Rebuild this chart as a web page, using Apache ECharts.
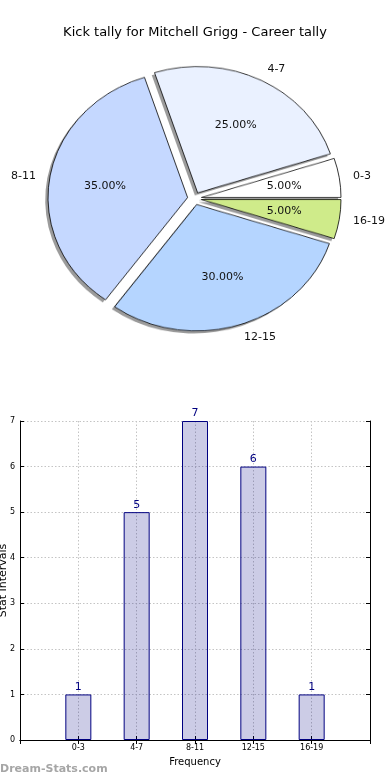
<!DOCTYPE html>
<html>
<head>
<meta charset="utf-8">
<script src="https://cdn.jsdelivr.net/npm/echarts@6/dist/echarts.min.js"></script>
<style>
  html, body { margin: 0; padding: 0; background: #ffffff; }
  #wrap { position: relative; width: 390px; height: 780px; overflow: hidden; }
  #pieShapes { position: absolute; left: 0; top: 0; width: 390px; height: 400px; z-index: 0; }
  #main { position: absolute; left: 0; top: 0; width: 390px; height: 780px; z-index: 1; }
</style>
</head>
<body>
<div id="wrap">
  <div id="pieShapes"></div>
  <div id="main"></div>
</div>
<script>
// ---- data ----
const title = 'Kick tally for Mitchell Grigg - Career tally';
const categories = ['0-3', '4-7', '8-11', '12-15', '16-19'];
const values = [1, 5, 7, 6, 1];
const pieColors = ['#FFFFFF', '#EAF1FF', '#C5D8FF', '#B5D5FF', '#CFEB8A'];
const yTicks = [0, 1, 2, 3, 4, 5, 6, 7];
const xAxisName = 'Frequency';
const yAxisName = 'Stat Intervals';
const watermark = 'Dream-Stats.com';

// ---- pie geometry (matplotlib pie drawn on non-equal aspect axes) ----
const CX = 194.5, CY = 198.5, R = 139.6, K = 0.9055, EXPLODE = 0.05, SHADOW = 0.02;
const FONT = 'DejaVu Sans';

const shapesEl = document.getElementById('pieShapes');
shapesEl.style.transformOrigin = CX + 'px ' + CY + 'px';
shapesEl.style.transform = 'scaleY(' + K + ')';

const total = values.reduce((a, b) => a + b, 0);
const mids = [];
let cum = 0;
values.forEach(v => { mids.push((cum + v / 2) / total * 2 * Math.PI); cum += v; });

function labelPos(i, frac) {
  const r = R * (frac + EXPLODE);
  const m = mids[i];
  return { x: CX + r * Math.cos(m), y: CY - K * r * Math.sin(m), c: Math.cos(m) };
}

const pieData = categories.map((c, i) => ({
  name: c, value: values[i], selected: true,
  itemStyle: { color: pieColors[i] }
}));
const shadowData = categories.map((c, i) => ({ name: c, value: values[i], selected: true }));

function piePart(center, data, itemStyle) {
  return {
    type: 'pie',
    center: center,
    radius: [0, R],
    startAngle: 0,
    clockwise: false,
    selectedMode: 'multiple',
    selectedOffset: R * EXPLODE,
    avoidLabelOverlap: false,
    silent: true,
    label: { show: false },
    labelLine: { show: false },
    emphasis: { disabled: true },
    itemStyle: itemStyle,
    data: data
  };
}

// ---- chart 1: pie wedges with shadow ----
const shapes = echarts.init(shapesEl, null, { renderer: 'canvas', width: 390, height: 400 });
shapes.setOption({
  animation: false,
  series: [
    piePart([CX - R * SHADOW, CY + R * SHADOW], shadowData,
      { color: 'rgba(55,55,55,0.5)', borderWidth: 0 }),
    piePart([CX, CY], pieData,
      { borderColor: '#000000', borderWidth: 0.8 })
  ]
});

// ---- chart 2: title, pie labels, bar chart ----
const main = echarts.init(document.getElementById('main'), null, { renderer: 'canvas', width: 390, height: 780 });
const transparentData = categories.map((c, i) => ({ name: c, value: values[i] }));

const xCats = [''].concat(categories, ['']);
const barData = ['-'].concat(values, ['-']);

main.setOption({
  animation: false,
  textStyle: { fontFamily: FONT },
  title: {
    text: title, left: 'center', top: 21,
    textStyle: { fontFamily: FONT, fontSize: 13, fontWeight: 'normal', color: '#000' }
  },
  graphic: [{
    type: 'text', left: 0, top: 764,
    style: { text: watermark, fontFamily: FONT, fontSize: 11, fontWeight: 'bold', fill: '#a6a6a6' }
  }],
  grid: { left: 20, top: 421, width: 350, height: 319, show: false, containLabel: false, outerBoundsMode: 'none' },
  xAxis: [{
    type: 'category', data: xCats, boundaryGap: false,
    position: 'bottom',
    name: xAxisName, nameLocation: 'middle', nameGap: 17, nameMoveOverlap: false,
    nameTextStyle: { fontFamily: FONT, fontSize: 10, color: '#000' },
    axisLine: { show: true, lineStyle: { color: '#000', width: 1 } },
    axisTick: { show: true, inside: true, length: 4, interval: 0, lineStyle: { color: '#000' } },
    axisLabel: { interval: 0, fontSize: 8, color: '#000', margin: 4 },
    splitLine: { show: true, interval: 0, lineStyle: { color: '#c4c4c4', type: [1.5, 2], width: 1 } }
  }, {
    type: 'category', data: xCats, boundaryGap: false, position: 'top',
    axisLine: { show: true, lineStyle: { color: '#000', width: 1 } },
    axisTick: { show: true, inside: true, length: 4, interval: 0, lineStyle: { color: '#000' } },
    axisLabel: { show: false }, splitLine: { show: false }
  }],
  yAxis: [{
    type: 'value', min: yTicks[0], max: yTicks[yTicks.length - 1], interval: 1,
    position: 'left',
    name: yAxisName, nameLocation: 'middle', nameGap: 11, nameRotate: 90, nameMoveOverlap: false,
    nameTextStyle: { fontFamily: FONT, fontSize: 11, color: '#000' },
    axisLine: { show: true, lineStyle: { color: '#000', width: 1 } },
    axisTick: { show: true, inside: true, length: 4, lineStyle: { color: '#000' } },
    axisLabel: { fontSize: 8, color: '#000', margin: 5 },
    splitLine: { show: true, lineStyle: { color: '#c4c4c4', type: [1.5, 2], width: 1 } }
  }, {
    type: 'value', min: yTicks[0], max: yTicks[yTicks.length - 1], interval: 1,
    position: 'right',
    axisLine: { show: true, lineStyle: { color: '#000', width: 1 } },
    axisTick: { show: true, inside: true, length: 4, lineStyle: { color: '#000' } },
    axisLabel: { show: false }, splitLine: { show: false }
  }],
  series: [
    {
      type: 'pie', center: [CX, CY], radius: [0, R], startAngle: 0, clockwise: false,
      silent: true, avoidLabelOverlap: false, selectedMode: false,
      itemStyle: { color: 'rgba(0,0,0,0)', borderWidth: 0 },
      emphasis: { disabled: true },
      labelLine: { show: false },
      label: { show: true, position: 'inside', color: '#111', fontFamily: FONT, fontSize: 11, formatter: '{b}' },
      labelLayout: function (p) {
        const q = labelPos(p.dataIndex, 1.1);
        return { x: q.x, y: q.y, align: q.c > 0 ? 'left' : 'right', verticalAlign: 'middle' };
      },
      data: transparentData
    },
    {
      type: 'pie', center: [CX, CY], radius: [0, R], startAngle: 0, clockwise: false,
      silent: true, avoidLabelOverlap: false, selectedMode: false,
      itemStyle: { color: 'rgba(0,0,0,0)', borderWidth: 0 },
      emphasis: { disabled: true },
      labelLine: { show: false },
      label: {
        show: true, position: 'inside', color: '#111', fontFamily: FONT, fontSize: 11,
        formatter: function (p) { return (p.value / total * 100).toFixed(2) + '%'; }
      },
      labelLayout: function (p) {
        const q = labelPos(p.dataIndex, 0.6);
        return { x: q.x, y: q.y, align: 'center', verticalAlign: 'middle' };
      },
      data: transparentData
    },
    {
      type: 'bar', xAxisIndex: 0, yAxisIndex: 0,
      data: barData, barWidth: 26,
      itemStyle: { color: 'rgba(0,0,128,0.2)', borderColor: '#000080', borderWidth: 1 },
      label: { show: true, position: 'top', distance: 2, color: '#000080', fontSize: 11, fontFamily: FONT },
      emphasis: { disabled: true },
      silent: true
    }
  ]
});
</script>
</body>
</html>
